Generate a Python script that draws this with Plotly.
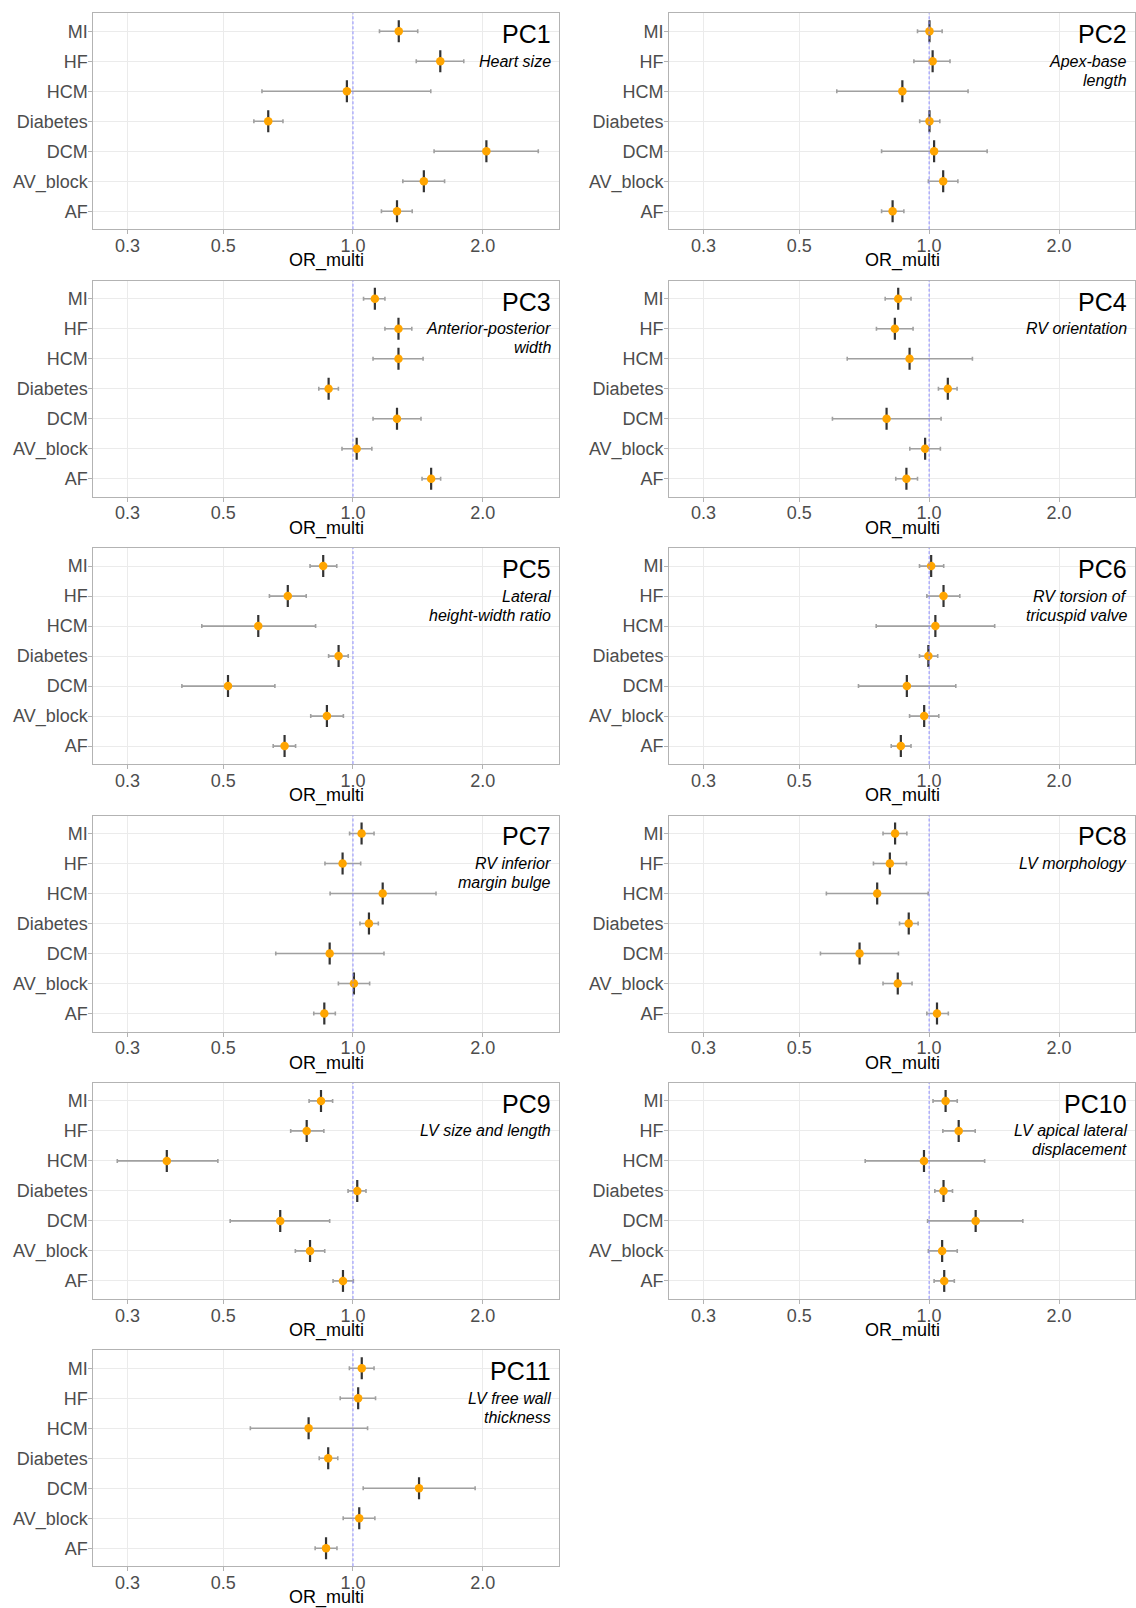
import math
import plotly.graph_objects as go

# Outcome categories, listed top to bottom as they appear on each panel
categories = ["MI", "HF", "HCM", "Diabetes", "DCM", "AV_block", "AF"]

# Principal-component panels and their shape descriptions
panels = ["PC1", "PC2", "PC3", "PC4", "PC5", "PC6", "PC7", "PC8", "PC9", "PC10", "PC11"]
subtitles = [
    "Heart size",
    "Apex-base\nlength",
    "Anterior-posterior\nwidth",
    "RV orientation",
    "Lateral\nheight-width ratio",
    "RV torsion of\ntricuspid valve",
    "RV inferior\nmargin bulge",
    "LV morphology",
    "LV size and length",
    "LV apical lateral\ndisplacement",
    "LV free wall\nthickness",
]

# Multivariable odds ratios with 95% confidence limits (order follows `categories`)
pc1_or = [1.277, 1.594, 0.968, 0.636, 2.039, 1.460, 1.265]
pc1_lo = [1.152, 1.402, 0.615, 0.589, 1.542, 1.305, 1.164]
pc1_hi = [1.413, 1.807, 1.515, 0.688, 2.690, 1.631, 1.372]

pc2_or = [1.002, 1.019, 0.867, 1.002, 1.027, 1.078, 0.823]
pc2_lo = [0.940, 0.922, 0.611, 0.951, 0.776, 0.996, 0.776]
pc2_hi = [1.072, 1.118, 1.231, 1.059, 1.363, 1.166, 0.874]

pc3_or = [1.124, 1.275, 1.275, 0.878, 1.265, 1.020, 1.518]
pc3_lo = [1.058, 1.186, 1.113, 0.833, 1.113, 0.943, 1.446]
pc3_hi = [1.186, 1.369, 1.454, 0.925, 1.438, 1.106, 1.597]

pc4_or = [0.848, 0.833, 0.901, 1.105, 0.797, 0.979, 0.886]
pc4_lo = [0.791, 0.755, 0.646, 1.051, 0.597, 0.902, 0.837]
pc4_hi = [0.908, 0.918, 1.260, 1.161, 1.066, 1.062, 0.940]

pc5_or = [0.853, 0.706, 0.603, 0.926, 0.513, 0.870, 0.694]
pc5_lo = [0.795, 0.640, 0.446, 0.878, 0.401, 0.798, 0.653]
pc5_hi = [0.917, 0.779, 0.819, 0.975, 0.659, 0.950, 0.736]

pc6_or = [1.011, 1.080, 1.034, 0.996, 0.888, 0.974, 0.860]
pc6_lo = [0.950, 0.988, 0.754, 0.950, 0.686, 0.901, 0.817]
pc6_hi = [1.081, 1.178, 1.419, 1.047, 1.153, 1.053, 0.908]

pc7_or = [1.047, 0.946, 1.172, 1.089, 0.883, 1.005, 0.858]
pc7_lo = [0.982, 0.861, 0.885, 1.038, 0.662, 0.925, 0.811]
pc7_hi = [1.119, 1.042, 1.558, 1.145, 1.180, 1.093, 0.910]

pc8_or = [0.834, 0.811, 0.758, 0.897, 0.690, 0.846, 1.043]
pc8_lo = [0.782, 0.743, 0.578, 0.854, 0.560, 0.782, 0.988]
pc8_hi = [0.888, 0.886, 0.995, 0.943, 0.849, 0.913, 1.108]

pc9_or = [0.843, 0.781, 0.370, 1.023, 0.678, 0.795, 0.948]
pc9_lo = [0.791, 0.717, 0.284, 0.974, 0.519, 0.735, 0.899]
pc9_hi = [0.897, 0.856, 0.486, 1.072, 0.883, 0.860, 1.002]

pc10_or = [1.092, 1.171, 0.973, 1.080, 1.282, 1.072, 1.084]
pc10_lo = [1.021, 1.076, 0.711, 1.031, 0.992, 0.996, 1.027]
pc10_hi = [1.162, 1.279, 1.345, 1.133, 1.649, 1.162, 1.144]

pc11_or = [1.048, 1.028, 0.789, 0.876, 1.423, 1.034, 0.866]
pc11_lo = [0.981, 0.934, 0.578, 0.835, 1.056, 0.949, 0.817]
pc11_hi = [1.119, 1.128, 1.081, 0.922, 1.920, 1.124, 0.918]

# X axis ticks
x_tickvals = [0.3, 0.5, 1.0, 2.0]
x_ticktext = ["0.3", "0.5", "1.0", "2.0"]

estimates = [pc1_or, pc2_or, pc3_or, pc4_or, pc5_or, pc6_or, pc7_or, pc8_or, pc9_or, pc10_or, pc11_or]
lowers = [pc1_lo, pc2_lo, pc3_lo, pc4_lo, pc5_lo, pc6_lo, pc7_lo, pc8_lo, pc9_lo, pc10_lo, pc11_lo]
uppers = [pc1_hi, pc2_hi, pc3_hi, pc4_hi, pc5_hi, pc6_hi, pc7_hi, pc8_hi, pc9_hi, pc10_hi, pc11_hi]

W, H = 1136, 1608
FONT = "Liberation Sans, Arial, Helvetica, sans-serif"
TICK_GREY = "#4D4D4D"
BORDER = "#B3B3B3"
GRID = "#EBEBEB"

# Panel geometry in pixels
col_x = [(93.4, 558.7), (669.3, 1135.0)]
row_top0, row_step, panel_h = 13.3, 267.4, 216.0

fig = go.Figure()
layout = dict(
    width=W, height=H,
    margin=dict(l=0, r=0, t=0, b=0),
    paper_bgcolor="white", plot_bgcolor="white",
    showlegend=False,
    font=dict(family=FONT, size=18, color=TICK_GREY),
)
annotations = []
shapes = []

for i, name in enumerate(panels):
    r, c = divmod(i, 2)
    n = i + 1
    xa = "x" if n == 1 else f"x{n}"
    ya = "y" if n == 1 else f"y{n}"
    top = row_top0 + r * row_step
    bot = top + panel_h
    x0, x1 = col_x[c]

    est, lo, hi = estimates[i], lowers[i], uppers[i]
    err_plus = [h - e for h, e in zip(hi, est)]
    err_minus = [e - l for e, l in zip(est, lo)]

    # confidence interval whiskers + vertical estimate bar
    fig.add_trace(go.Scatter(
        x=est, y=categories, xaxis=xa, yaxis=ya, mode="markers",
        marker=dict(symbol="line-ns", size=15.7, color="#333333",
                    line=dict(width=2.2, color="#333333")),
        error_x=dict(type="data", array=err_plus, arrayminus=err_minus,
                     color="#A0A0A0", thickness=1.6, width=2),
        hoverinfo="skip",
    ))
    # point estimate
    fig.add_trace(go.Scatter(
        x=est, y=categories, xaxis=xa, yaxis=ya, mode="markers",
        marker=dict(symbol="circle", size=8.5, color="#FFA500"),
    ))

    key_x = "xaxis" if n == 1 else f"xaxis{n}"
    key_y = "yaxis" if n == 1 else f"yaxis{n}"
    layout[key_x] = dict(
        type="log", domain=[x0 / W, x1 / W], anchor=ya,
        range=[math.log10(0.25), math.log10(3.0)],
        tickvals=x_tickvals, ticktext=x_ticktext,
        showgrid=True, gridcolor=GRID, gridwidth=1,
        showline=True, linecolor=BORDER, linewidth=1.2, mirror=True,
        ticks="outside", ticklen=4, tickcolor=BORDER, tickwidth=1,
        ticklabelstandoff=-4,
        tickfont=dict(size=18, color=TICK_GREY, family=FONT),
        zeroline=False,
    )
    layout[key_y] = dict(
        type="category", domain=[1 - bot / H, 1 - top / H], anchor=xa,
        categoryorder="array", categoryarray=categories[::-1],
        range=[-0.6, 6.6],
        showgrid=True, gridcolor=GRID, gridwidth=1,
        showline=True, linecolor=BORDER, linewidth=1.2, mirror=True,
        ticks="outside", ticklen=4, tickcolor=BORDER, tickwidth=1,
        ticklabelstandoff=-3,
        tickfont=dict(size=18, color=TICK_GREY, family=FONT),
        zeroline=False,
    )

    # reference line at OR = 1
    shapes.append(dict(
        type="line", xref=xa, yref=f"{ya} domain", x0=1, x1=1, y0=0, y1=1,
        line=dict(color="#8C8CFF", width=1, dash="3px,2px"), layer="above",
    ))

    # panel label
    annotations.append(dict(
        xref=f"{xa} domain", yref=f"{ya} domain", x=1, y=1,
        xanchor="right", yanchor="middle", xshift=-6, yshift=-21,
        text=name, showarrow=False,
        font=dict(size=25, color="black", family=FONT),
    ))
    # description lines
    for k, line in enumerate(subtitles[i].split("\n")):
        annotations.append(dict(
            xref=f"{xa} domain", yref=f"{ya} domain", x=1, y=1,
            xanchor="right", yanchor="middle", xshift=-6, yshift=-(48 + 19 * k),
            text=f"<i>{line}</i>", showarrow=False,
            font=dict(size=16, color="black", family=FONT),
        ))
    # x axis title
    annotations.append(dict(
        xref=f"{xa} domain", yref=f"{ya} domain", x=0.5, y=0,
        xanchor="center", yanchor="top", yshift=-19,
        text="OR_multi", showarrow=False,
        font=dict(size=18, color="black", family=FONT),
    ))

layout["annotations"] = annotations
layout["shapes"] = shapes
fig.update_layout(**layout)

fig.write_html("out.html")
